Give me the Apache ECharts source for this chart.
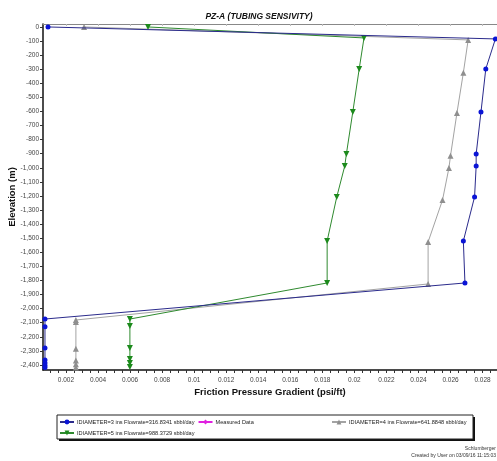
<!DOCTYPE html>
<html>
<head>
<meta charset="utf-8">
<script src="https://cdn.jsdelivr.net/npm/echarts@6/dist/echarts.min.js"></script>
<style>
  html, body { margin: 0; padding: 0; background: #fff; }
  #chart { width: 497px; height: 461px; }
</style>
</head>
<body>
<div id="chart"></div>
<script>
// Friction pressure gradient vs elevation for three tubing sizes
const dia3X = [0.00088, 0.0288, 0.0282, 0.0279, 0.0276, 0.0276, 0.0275, 0.0268, 0.0269, 0.00069, 0.00069, 0.00069, 0.00069, 0.00069, 0.00069, 0.00069];
const dia3Y = [0, -85, -298, -604, -902, -987, -1207, -1520, -1818, -2074, -2128, -2280, -2365, -2386, -2404, -2418];

const dia4X = [0.00313, 0.0271, 0.0268, 0.0264, 0.0260, 0.0259, 0.0255, 0.0246, 0.0246, 0.00262, 0.00262, 0.00262, 0.00262, 0.00262, 0.00262];
const dia4Y = [0, -92, -325, -611, -914, -1001, -1229, -1527, -1825, -2081, -2095, -2285, -2368, -2395, -2418];

const dia5X = [0.00712, 0.0206, 0.0203, 0.0199, 0.0195, 0.0194, 0.0189, 0.0183, 0.0183, 0.00599, 0.00599, 0.00599, 0.00599, 0.00599, 0.00599];
const dia5Y = [0, -78, -298, -604, -902, -987, -1207, -1520, -1818, -2074, -2124, -2280, -2358, -2386, -2415];

const measuredX = [];
const measuredY = [];

const xTickLabels = [0.002, 0.004, 0.006, 0.008, 0.01, 0.012, 0.014, 0.016, 0.018, 0.02, 0.022, 0.024, 0.026, 0.028];
const yTickLabels = [0, -100, -200, -300, -400, -500, -600, -700, -800, -900, -1000, -1100, -1200, -1300, -1400, -1500, -1600, -1700, -1800, -1900, -2000, -2100, -2200, -2300, -2400];

const seriesNames = [
  'IDIAMETER=3 ins Flowrate=316.8341 sbbl/day',
  'Measured Data',
  'IDIAMETER=4 ins Flowrate=641.8848 sbbl/day',
  'IDIAMETER=5 ins Flowrate=988.3729 sbbl/day'
];

const pair = (xs, ys) => xs.map((x, i) => [x, ys[i]]);

const xMinorTicks = [];
for (let k = 2; k <= 57; k++) xMinorTicks.push(+(k * 0.0005).toFixed(4));

const FONT = 'Liberation Sans';
const chart = echarts.init(document.getElementById('chart'));

const legendText = { fontSize: 5.6, color: '#222', fontFamily: FONT, padding: [0, 0, 0, -2] };

chart.setOption({
  animation: false,
  backgroundColor: '#fff',
  textStyle: { fontFamily: FONT },
  title: {
    text: 'PZ-A (TUBING SENSIVITY)',
    left: 254, top: 7, textAlign: 'center',
    textStyle: { fontSize: 8.5, fontWeight: 'bold', fontStyle: 'italic', color: '#111', fontFamily: FONT }
  },
  grid: { left: 43, right: 0, top: 24, bottom: 91, containLabel: false, outerBoundsMode: 'none' },
  xAxis: [{
    type: 'value',
    min: 0.000567, max: 0.0289,
    name: 'Friction Pressure Gradient (psi/ft)',
    nameLocation: 'middle', nameGap: 17, nameMoveOverlap: false,
    nameTextStyle: { fontSize: 9.5, fontWeight: 'bold', color: '#111', fontFamily: FONT },
    axisLine: { onZero: false, lineStyle: { color: '#111', width: 1.5 } },
    axisTick: { customValues: xMinorTicks, length: 3, lineStyle: { color: '#333' } },
    axisLabel: {
      customValues: xTickLabels, fontSize: 6.5, color: '#444', margin: 7,
      formatter: v => String(+v.toFixed(3))
    },
    splitLine: { show: false }
  }, {
    type: 'value',
    position: 'top',
    min: 0.000567, max: 0.0289,
    axisLine: { show: true, onZero: false, lineStyle: { color: '#888', width: 1 } },
    axisTick: { customValues: xTickLabels, inside: true, length: 2, lineStyle: { color: '#bbb' } },
    axisLabel: { show: false },
    splitLine: { show: false }
  }],
  yAxis: {
    type: 'value',
    min: -2436, max: 21,
    name: 'Elevation (m)',
    nameLocation: 'middle', nameGap: 26, nameRotate: 90, nameMoveOverlap: false,
    nameTextStyle: { fontSize: 9.5, fontWeight: 'bold', color: '#111', fontFamily: FONT },
    axisLine: { show: true, onZero: false, lineStyle: { color: '#111', width: 1.5 } },
    axisTick: { show: true, customValues: yTickLabels, length: 3, lineStyle: { color: '#333' } },
    axisLabel: {
      customValues: yTickLabels, fontSize: 6.5, color: '#444', margin: 4,
      formatter: v => v.toLocaleString('en-US')
    },
    splitLine: { show: false }
  },
  legend: [{
    data: [seriesNames[0], seriesNames[1]],
    left: 59, top: 419, padding: 0, itemGap: 3, itemWidth: 14, itemHeight: 6,
    textStyle: legendText
  }, {
    data: [seriesNames[3]],
    left: 59, top: 430, padding: 0, itemWidth: 14, itemHeight: 6,
    textStyle: legendText
  }, {
    data: [seriesNames[2]],
    left: 331, top: 419, padding: 0, itemWidth: 14, itemHeight: 6,
    textStyle: legendText
  }],
  graphic: [
    { type: 'rect', z: -1, shape: { x: 59, y: 417, width: 416, height: 24 }, style: { fill: '#111' } },
    { type: 'rect', z: -1, shape: { x: 57, y: 415, width: 416, height: 24 }, style: { fill: '#fff', stroke: '#222', lineWidth: 1 } },
    { type: 'text', right: 1, top: 446, style: { text: 'Schlumberger', fontSize: 5, fill: '#333', fontFamily: FONT } },
    { type: 'text', right: 1, top: 453, style: { text: 'Created by User on 03/09/16 11:15:03', fontSize: 5, fill: '#333', fontFamily: FONT } }
  ],
  series: [{
    name: seriesNames[0], type: 'line', data: pair(dia3X, dia3Y), z: 4,
    symbol: 'circle', symbolSize: 5,
    lineStyle: { color: '#2b2b8c', width: 1 },
    itemStyle: { color: '#0a14d6' }
  }, {
    name: seriesNames[1], type: 'line', data: pair(measuredX, measuredY),
    symbol: 'diamond', symbolSize: 6,
    lineStyle: { color: '#e020e0', width: 1 },
    itemStyle: { color: '#e020e0' }
  }, {
    name: seriesNames[2], type: 'line', data: pair(dia4X, dia4Y), z: 3,
    symbol: 'triangle', symbolSize: 6,
    lineStyle: { color: '#a3a3a3', width: 1 },
    itemStyle: { color: '#8f8f8f' }
  }, {
    name: seriesNames[3], type: 'line', data: pair(dia5X, dia5Y), z: 3,
    symbol: 'triangle', symbolRotate: 180, symbolSize: 6,
    lineStyle: { color: '#2f8a2f', width: 1 },
    itemStyle: { color: '#1c8a1c' }
  }]
});
</script>
</body>
</html>
